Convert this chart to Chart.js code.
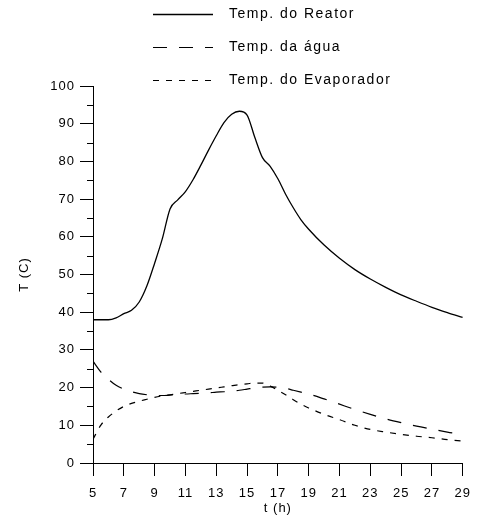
<!DOCTYPE html>
<html>
<head>
<meta charset="utf-8">
<script src="https://cdn.jsdelivr.net/npm/chart.js@4/dist/chart.umd.min.js"></script>
<style>
  html, body { margin: 0; padding: 0; background: #fff; }
  #wrap { width: 480px; height: 522px; position: relative; }
</style>
</head>
<body>
<div id="wrap"><canvas id="grafico"></canvas></div>
<script>
// tempo (h)
const tempo = [5, 5.5, 6, 6.5, 7, 7.5, 8, 8.5, 9, 9.5, 10, 10.5, 11, 11.5, 12, 12.5, 13, 13.5, 14, 14.5,
  15, 15.5, 16, 16.5, 17, 17.5, 18, 18.5, 19, 20, 21, 22, 23, 24, 25, 26, 27, 28, 29];

// temperaturas (C)
const tempReator = [38, 38, 38, 38.5, 39.6, 40.5, 42.7, 47, 53, 59.5, 67.4, 69.8, 72.0, 75.2, 79.0, 83.0, 86.8, 90.3, 92.5, 93.3,
  92.3, 86.4, 81.0, 78.7, 75.4, 71.3, 67.7, 64.5, 62, 57.8, 54.3, 51.3, 48.8, 46.6, 44.6, 42.9, 41.3, 39.9, 38.6];
const tempAgua = [27, 24.2, 22.2, 20.6, 19.6, 18.9, 18.4, 18.1, 17.9, 17.9, 18.0, 18.1, 18.3, 18.4, 18.5, 18.6, 18.8, 18.9, 19.1, 19.3,
  19.6, 19.9, 20.1, 20.2, 20.1, 19.8, 19.3, 18.8, 18.3, 17.0, 15.6, 14.2, 12.9, 11.7, 10.7, 9.8, 9.0, 8.2, 7.6];
const tempEvap = [6.3, 10, 12.2, 13.8, 15, 15.8, 16.4, 16.9, 17.4, 17.8, 18.1, 18.4, 18.7, 19.0, 19.3, 19.6, 19.9, 20.2, 20.5, 20.8,
  21.0, 21.2, 21.2, 20.4, 19.3, 18.1, 16.8, 15.6, 14.6, 12.9, 11.5, 10.0, 8.9, 8.2, 7.6, 7.1, 6.7, 6.2, 5.8];

const series = ["Temp. do Reator", "Temp. da água", "Temp. do Evaporador"];

const fonte = '"Liberation Sans", Arial, sans-serif';

function pontos(valores) {
  return tempo.map((t, i) => ({ x: t, y: valores[i] }));
}

// espaçamento entre letras como no original
const espacamento = {
  id: "espacamento",
  beforeDraw(chart) {
    chart.ctx.letterSpacing = "1px";
  }
};

// tracinhos menores no eixo y (a cada 5)
const marcasMenores = {
  id: "marcasMenores",
  afterDraw(chart) {
    const ctx = chart.ctx;
    const y = chart.scales.y;
    ctx.save();
    ctx.strokeStyle = "#000";
    ctx.lineWidth = 1;
    for (let v = 5; v < 100; v += 10) {
      const py = Math.round(y.getPixelForValue(v)) + 0.5;
      ctx.beginPath();
      ctx.moveTo(y.right - 6, py);
      ctx.lineTo(y.right, py);
      ctx.stroke();
    }
    ctx.restore();
  }
};

// legenda em coluna no topo
const legenda = {
  id: "legenda",
  afterDraw(chart) {
    const ctx = chart.ctx;
    const linhasY = [14, 47, 80];
    ctx.save();
    ctx.font = "14px " + fonte;
    ctx.letterSpacing = "1.5px";
    ctx.textBaseline = "middle";
    ctx.fillStyle = "#000";
    chart.data.datasets.forEach((ds, i) => {
      const yy = linhasY[i] + 0.5;
      ctx.strokeStyle = "#000";
      ctx.lineWidth = ds.borderWidth;
      ctx.setLineDash(ds.borderDash || []);
      ctx.beginPath();
      ctx.moveTo(153, yy);
      ctx.lineTo(213, yy);
      ctx.stroke();
      ctx.setLineDash([]);
      ctx.fillText(ds.label, 229, linhasY[i]);
    });
    ctx.restore();
  }
};

new Chart(document.getElementById("grafico"), {
  type: "line",
  data: {
    datasets: [
      {
        label: series[0],
        data: pontos(tempReator),
        borderColor: "#000",
        borderWidth: 1.3,
        borderDash: [],
        pointRadius: 0,
        cubicInterpolationMode: "monotone",
        fill: false
      },
      {
        label: series[1],
        data: pontos(tempAgua),
        borderColor: "#000",
        borderWidth: 1.2,
        borderDash: [14, 12],
        pointRadius: 0,
        cubicInterpolationMode: "monotone",
        fill: false
      },
      {
        label: series[2],
        data: pontos(tempEvap),
        borderColor: "#000",
        borderWidth: 1.2,
        borderDash: [6, 7],
        pointRadius: 0,
        cubicInterpolationMode: "monotone",
        fill: false
      }
    ]
  },
  options: {
    responsive: true,
    maintainAspectRatio: false,
    animation: false,
    layout: { padding: { top: 86, right: 11, left: 0, bottom: 0 } },
    plugins: {
      legend: { display: false },
      tooltip: { enabled: false }
    },
    scales: {
      x: {
        type: "linear",
        min: 5,
        max: 29,
        border: { display: true, color: "#000", width: 1 },
        grid: { drawOnChartArea: false, drawTicks: true, tickLength: 13, color: "#000" },
        ticks: { stepSize: 2, color: "#000", padding: 10, maxRotation: 0, font: { family: fonte, size: 13 } },
        title: { display: true, text: "t (h)", color: "#000", padding: { top: 0, bottom: 6 }, font: { family: fonte, size: 13 } },
        afterFit(scale) { scale.height = 59; }
      },
      y: {
        min: 0,
        max: 100,
        border: { display: true, color: "#000", width: 1 },
        grid: { drawOnChartArea: false, drawTicks: true, tickLength: 13, color: "#000" },
        ticks: { stepSize: 10, color: "#000", padding: 5, font: { family: fonte, size: 13 } },
        title: { display: true, text: "T (C)", color: "#000", padding: { top: 17, bottom: 0 }, font: { family: fonte, size: 13 } },
        afterFit(scale) { scale.width = 93; }
      }
    }
  },
  plugins: [espacamento, marcasMenores, legenda]
});
</script>
</body>
</html>
